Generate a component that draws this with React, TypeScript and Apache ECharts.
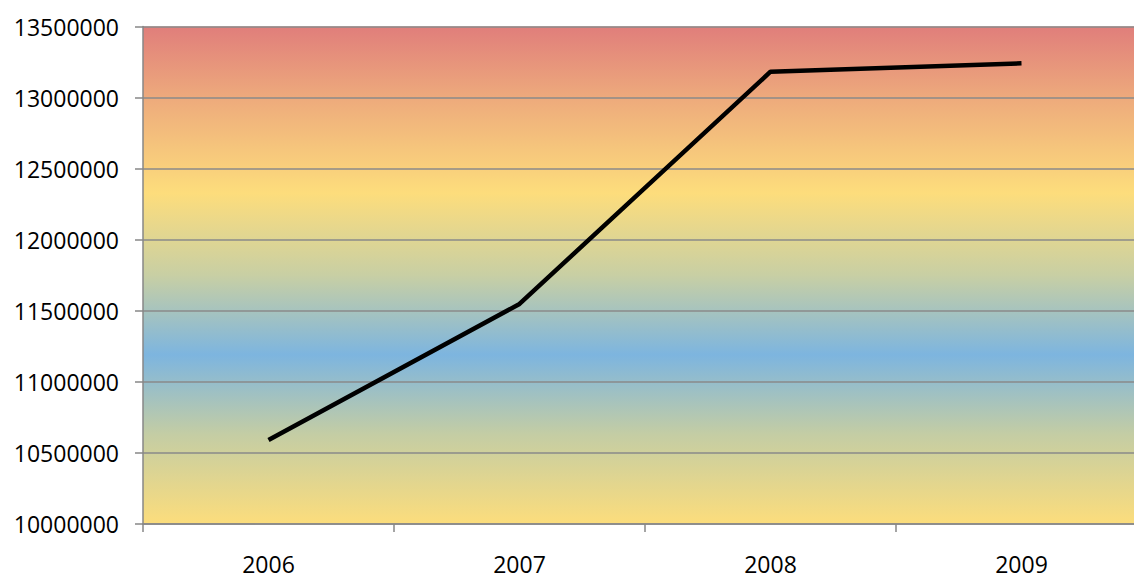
import React, { useEffect, useRef } from "react";
import * as echarts from "echarts";

const years = ["2006", "2007", "2008", "2009"];
const values = [10591000, 11548000, 13182000, 13241000];
const yMin = 10000000;
const yMax = 13500000;
const yStep = 500000;

export default function App() {
  const ref = useRef<HTMLDivElement>(null);
  useEffect(() => {
    if (!ref.current) return;
    const chart = echarts.init(ref.current, null, { renderer: "svg" });
    const font = { fontFamily: "Open Sans", fontSize: 23, color: "#000" };
    chart.setOption({
      animation: false,
      grid: {
        left: 143,
        top: 26.5,
        bottom: 50,
        right: 0,
        outerBoundsMode: "none",
        containLabel: false,
        show: true,
        borderWidth: 0,
        backgroundColor: {
          type: "linear",
          x: 0,
          y: 0,
          x2: 0,
          y2: 1,
          colorStops: [
            { offset: 0, color: "#e07e7b" },
            { offset: 0.15, color: "#eeac7c" },
            { offset: 0.335, color: "#fddd7c" },
            { offset: 0.5, color: "#c8cfa4" },
            { offset: 0.66, color: "#7db5df" },
            { offset: 0.82, color: "#c4cda4" },
            { offset: 1, color: "#fcdd7c" },
          ],
        },
      },
      xAxis: {
        type: "category",
        data: years,
        boundaryGap: true,
        axisLine: { show: true, lineStyle: { color: "#878787", width: 1.5 } },
        axisTick: { show: true, length: 8, alignWithLabel: false, lineStyle: { color: "#878787", width: 1.5 } },
        axisLabel: { ...font, margin: 28 },
        splitLine: { show: false },
      },
      yAxis: {
        type: "value",
        min: yMin,
        max: yMax,
        interval: yStep,
        axisLine: { show: true, lineStyle: { color: "#878787", width: 1.5 } },
        axisTick: { show: true, length: 8, lineStyle: { color: "#878787", width: 1.5 } },
        axisLabel: { ...font, margin: 24, formatter: (v: number) => String(v) },
        splitLine: { show: true, lineStyle: { color: "#8a8a8a", width: 1.5 } },
      },
      series: [
        {
          type: "line",
          data: values,
          symbol: "none",
          lineStyle: { color: "#000", width: 4.5 },
        },
      ],
    });
    return () => chart.dispose();
  }, []);
  return (
    <div style={{ position: "absolute", left: 0, top: 0, width: 1134, height: 574, overflow: "hidden" }}>
      <div ref={ref} style={{ position: "absolute", left: 0, top: 0, width: 1147, height: 574 }} />
    </div>
  );
}
